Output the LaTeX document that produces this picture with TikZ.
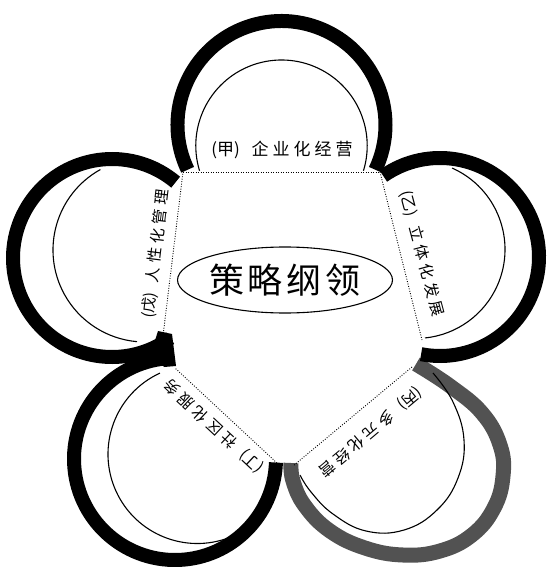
\documentclass[tikz,border=0pt]{standalone}
\usepackage{fontspec}
\newfontfamily\cjk{Noto Sans CJK SC}
\usetikzlibrary{shapes.geometric}
\newcommand\lsp{\hspace{4pt}}
\newcommand\petalarc[5]{\draw[#5] ([shift={(#3:#2)}]#1) arc[start angle=#3, end angle=#4, radius=#2];}
\begin{document}
\begin{tikzpicture}[x=1pt,y=1pt,
  band/.style={line width=14pt,draw=black},
  grayband/.style={line width=15pt,draw=black!68},
  thinarc/.style={line width=1.1pt,draw=black},
  edgeline/.style={line width=0.9pt,dash pattern=on 0.9pt off 1.6pt},
  lab/.style={font=\cjk\fontsize{15.5}{16}\selectfont, inner sep=0pt},
  toplab/.style={font=\cjk\fontsize{17}{18}\selectfont, inner sep=0pt},
]
\useasboundingbox (0,0) rectangle (547,-567);
\fill[white] (0,0) rectangle (547,-567);
% petal centres
\coordinate (ct) at (281.5,-125);
\coordinate (cr) at (440,-257);
\coordinate (cbl) at (175,-459);
\coordinate (cl) at (112,-258);
\coordinate (tt) at (281.5,-145.7);
\coordinate (tr) at (416,-249.4);
\coordinate (tbl) at (197.3,-454.2);
\coordinate (tl) at (145,-250);
% pentagon corners
\coordinate (v1) at (183,-172);
\coordinate (v2) at (380,-172);
\coordinate (v3a) at (422,-340);
\coordinate (v3b) at (412,-367);
\coordinate (v4a) at (293,-466);
\coordinate (v4b) at (277,-463);
\coordinate (v5a) at (175,-368);
\coordinate (v5b) at (163,-336);
% thick outer bands
\draw[grayband] plot[smooth, tension=0.7] coordinates {(416,-364) (450,-386) (482,-413) (500,-445) (503,-476) (494,-508) (472,-535) (440,-551) (403,-555) (365,-548) (330,-531) (305,-506) (293,-481) (291,-463)};
\petalarc{ct}{104pt}{205.5}{-25.5}{band}
\petalarc{cr}{99pt}{125}{-101}{band}
\petalarc{cbl}{101pt}{92}{358}{band}
\petalarc{cl}{99pt}{50}{306}{band}
% junction blob between the left and lower-left petals
\fill[black] (158,-331) -- (172,-334) -- (176,-366) -- (164,-367) -- (152,-350) -- cycle;
% thin inner arcs
\petalarc{tt}{85.7pt}{197}{-17}{thinarc}
\petalarc{tr}{89pt}{66.1}{-84.2}{thinarc}
\draw[thinarc] plot[smooth, tension=0.7] coordinates {(433,-373) (453,-402) (464,-440) (458,-478) (437,-510) (404,-530) (366,-531) (333,-514) (311,-492) (300,-475)};
\petalarc{tbl}{89.3pt}{114.7}{291}{thinarc}
\petalarc{tl}{92pt}{119}{265}{thinarc}
% dotted pentagon edges
\draw[edgeline] (v1) -- (v2);
\draw[edgeline] (v2) -- (v3a);
\draw[edgeline] (v3b) -- (v4a);
\draw[edgeline] (v4b) -- (v5a);
\draw[edgeline] (v5b) -- (v1);
% centre
\node[ellipse, draw, line width=1.1pt, minimum width=182pt, minimum height=66pt,
      font=\cjk\fontsize{35}{36}\selectfont, inner sep=0pt] (core) at (285,-280)
      {策\lsp 略\lsp 纲\lsp 领};
% labels
\node[toplab] (ljia) at (282,-150) {(甲)\hspace{12pt}企\lsp 业\lsp 化\lsp 经\lsp 营};
\node[lab, rotate=-75] (lyi) at (422,-254) {(乙)\hspace{10pt}立\lsp 体\lsp 化\lsp 发\lsp 展};
\node[lab, rotate=-140] (lbing) at (370,-432) {(丙)\hspace{10pt}多\lsp 元\lsp 化\lsp 经\lsp 营};
\node[lab, rotate=137] (lding) at (214,-426) {(丁)\hspace{10pt}社\lsp 区\lsp 化\lsp 服\lsp 务};
\node[lab, rotate=83] (lwu) at (156,-254) {(戊)\hspace{10pt}人\lsp 性\lsp 化\lsp 管\lsp 理};
\end{tikzpicture}
\end{document}
